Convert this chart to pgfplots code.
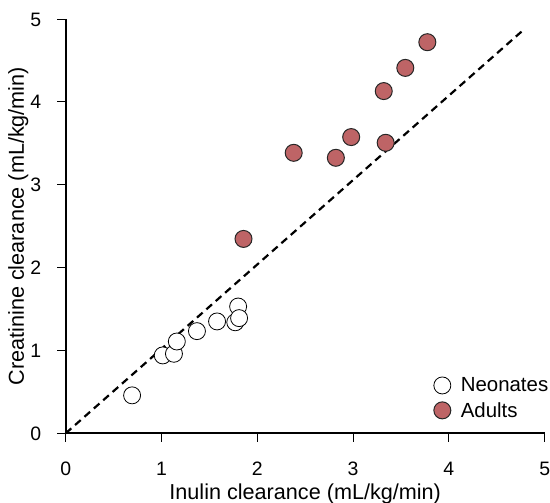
\documentclass[border=0pt]{standalone}
\usepackage{fontspec}
\setmainfont{Liberation Sans}
\usepackage{pgfplots}
\pgfplotsset{compat=1.18}
\definecolor{adult}{RGB}{190,100,102}
\begin{document}
\begin{tikzpicture}
\useasboundingbox (-65.7bp,-69.7bp) rectangle (484.3bp,433.3bp);
\begin{axis}[
 at={(0,0)}, anchor=south west,
 scale only axis, width=479bp, height=414.3bp,
 xmin=0,xmax=5,ymin=0,ymax=5,
 axis x line=bottom, axis y line=left,
 axis line style={-, line width=1.8bp},
 xtick={0,1,2,3,4,5}, ytick={0,1,2,3,4,5},
 tick style={line width=1bp, black}, major tick length=8.5bp,
 tick align=outside,
 ticklabel style={font=\fontsize{19.5}{22}\selectfont, inner sep=0pt},
 xticklabel style={anchor=base, yshift=-33.7bp},
 yticklabel style={anchor=base east, xshift=-15.7bp, yshift=-7bp},
 /pgf/number format/assume math mode=true,
 label style={font=\fontsize{21.7}{24}\selectfont, inner sep=0pt},
 xlabel={Inulin clearance (mL/kg/min)},
 ylabel={Creatinine clearance (mL/kg/min)},
 xlabel style={at={(axis description cs:0.5,-0.16)}, anchor=base},
 ylabel style={at={(axis description cs:-0.0871,0.5)}, anchor=base},
 legend style={draw=none, fill=none, inner sep=0pt, at={(axis cs:5.06,0.152)}, anchor=south east, font=\fontsize{20.5}{23}\selectfont, row sep=5bp, column sep=8bp},
 legend cell align=left,
 clip=false,
]
\addplot[forget plot, black, line width=2.2bp, dash pattern=on 7.5bp off 5bp] coordinates {(0,0) (4.77,4.86)};
\addplot[only marks, mark=*, mark size=8.5bp, mark options={fill=white, draw=black, line width=0.8bp}] coordinates {
(0.693,0.458) (1.013,0.94) (1.13,0.96) (1.16,1.108) (1.37,1.233) (1.58,1.35) (1.77,1.34) (1.80,1.53) (1.81,1.39)};
\addlegendentry{Neonates}
\addplot[only marks, mark=*, mark size=8.5bp, mark options={fill=adult, draw=black!85, line width=1bp}] coordinates {
(1.856,2.346) (2.38,3.385) (2.82,3.325) (2.98,3.575) (3.34,3.506) (3.32,4.13) (3.545,4.41) (3.775,4.72)};
\addlegendentry{Adults}
\end{axis}
\end{tikzpicture}
\end{document}
